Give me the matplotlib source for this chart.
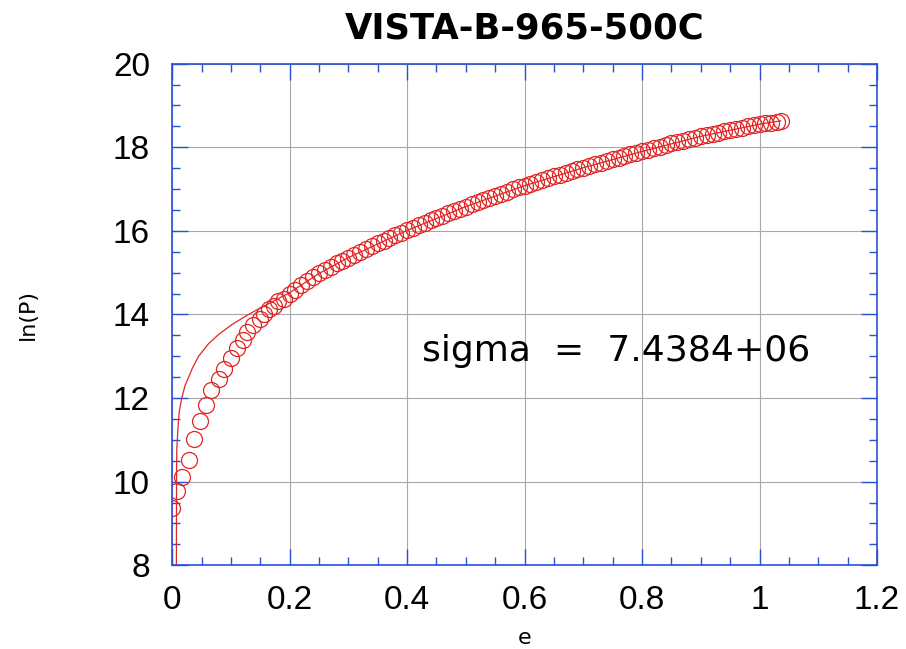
import matplotlib
matplotlib.use('Agg')
import matplotlib.pyplot as plt
from matplotlib.ticker import MultipleLocator, FuncFormatter

# measured points (strain e, ln of pressure)
e_pts = [0.000, 0.008, 0.017, 0.028, 0.038, 0.047, 0.058, 0.067, 0.079, 0.088,
         0.100, 0.110, 0.120, 0.128, 0.138, 0.149, 0.157, 0.165, 0.173, 0.181,
         0.190, 0.200, 0.21, 0.22, 0.23, 0.24, 0.25, 0.26, 0.27, 0.28,
         0.29, 0.30, 0.31, 0.32, 0.33, 0.34, 0.35, 0.36, 0.37, 0.38,
         0.39, 0.40, 0.41, 0.42, 0.43, 0.44, 0.45, 0.46, 0.47, 0.48,
         0.49, 0.50, 0.51, 0.52, 0.53, 0.54, 0.55, 0.56, 0.57, 0.58,
         0.59, 0.60, 0.61, 0.62, 0.63, 0.64, 0.65, 0.66, 0.67, 0.68,
         0.69, 0.70, 0.71, 0.72, 0.73, 0.74, 0.75, 0.76, 0.77, 0.78,
         0.79, 0.80, 0.81, 0.82, 0.83, 0.84, 0.85, 0.86, 0.87, 0.88,
         0.89, 0.90, 0.91, 0.92, 0.93, 0.94, 0.95, 0.96, 0.97, 0.98,
         0.99, 1.00, 1.01, 1.02, 1.03, 1.036]
lnp_pts = [9.37, 9.77, 10.10, 10.53, 11.01, 11.46, 11.84, 12.19, 12.46, 12.70,
           12.96, 13.20, 13.40, 13.58, 13.74, 13.88, 14.02, 14.12, 14.21, 14.31,
           14.38, 14.48, 14.59, 14.70, 14.80, 14.89, 14.98, 15.06, 15.14, 15.22,
           15.29, 15.36, 15.43, 15.50, 15.57, 15.64, 15.70, 15.76, 15.83, 15.89,
           15.95, 16.01, 16.07, 16.13, 16.19, 16.25, 16.30, 16.36, 16.42, 16.47,
           16.53, 16.58, 16.63, 16.69, 16.74, 16.79, 16.84, 16.89, 16.94, 16.99,
           17.04, 17.08, 17.13, 17.17, 17.22, 17.26, 17.30, 17.34, 17.38, 17.43,
           17.47, 17.51, 17.55, 17.59, 17.63, 17.67, 17.71, 17.75, 17.79, 17.83,
           17.86, 17.90, 17.94, 17.97, 18.01, 18.05, 18.09, 18.12, 18.16, 18.19,
           18.23, 18.26, 18.29, 18.32, 18.35, 18.38, 18.41, 18.44, 18.47, 18.50,
           18.52, 18.55, 18.57, 18.59, 18.61, 18.63]

# fitted curve
e_fit = [0.0072, 0.0075, 0.008, 0.010, 0.012, 0.016, 0.022, 0.034, 0.045, 0.062,
         0.079, 0.102, 0.130, 0.159, 0.200, 0.25, 0.30, 0.40, 0.50, 0.60,
         0.70, 0.80, 0.90, 1.00, 1.036]
lnp_fit = [8.0, 10.2, 10.8, 11.3, 11.66, 11.98, 12.30, 12.70, 13.00, 13.30,
           13.52, 13.76, 14.00, 14.22, 14.52, 14.98, 15.36, 16.01, 16.58, 17.08,
           17.51, 17.90, 18.26, 18.55, 18.63]

titulo = 'VISTA-B-965-500C'
texto_sigma = 'sigma  =  7.4384+06'

rojo = '#e02525'
azul = '#2a50d4'

plt.rcParams['font.family'] = ['Liberation Sans', 'DejaVu Sans']

fig = plt.figure(figsize=(9.06, 6.49), dpi=100)
ax = fig.add_axes([0.19, 0.129, 0.778, 0.773])

ax.plot(e_fit, lnp_fit, color=rojo, lw=0.9)
ax.plot(e_pts, lnp_pts, 'o', mfc='none', mec=rojo, mew=0.9, ms=11.5)

ax.set_xlim(0, 1.2)
ax.set_ylim(8, 20)
ax.xaxis.set_major_locator(MultipleLocator(0.2))
ax.xaxis.set_minor_locator(MultipleLocator(0.05))
ax.yaxis.set_major_locator(MultipleLocator(2))
ax.yaxis.set_minor_locator(MultipleLocator(0.5))
ax.xaxis.set_major_formatter(FuncFormatter(lambda v, p: '%g' % round(v, 2)))

ax.grid(True, which='major', color='#a8a8a8', lw=0.8)
ax.set_axisbelow(True)
for s in ax.spines.values():
    s.set_color(azul)
    s.set_linewidth(1.2)

ax.tick_params(which='both', direction='in', top=True, right=True, color=azul)
ax.tick_params(which='major', length=11.5, width=1.0, labelsize=24)
ax.tick_params(axis='x', which='major', pad=14)
ax.tick_params(axis='y', which='major', pad=16)
ax.tick_params(which='minor', length=6, width=1.0)

ax.set_title(titulo, fontsize=25.5, fontweight='bold', pad=18, family='DejaVu Sans')
ax.set_xlabel('e', fontsize=16, family='DejaVu Sans')
ax.set_ylabel('ln(P)', fontsize=16, family='DejaVu Sans')
ax.xaxis.set_label_coords(0.5, -0.125)
ax.yaxis.set_label_coords(-0.19, 0.5)

ax.text(0.426, 12.88, texto_sigma, fontsize=26, family='DejaVu Sans')

fig.savefig('out.png', dpi=100)
